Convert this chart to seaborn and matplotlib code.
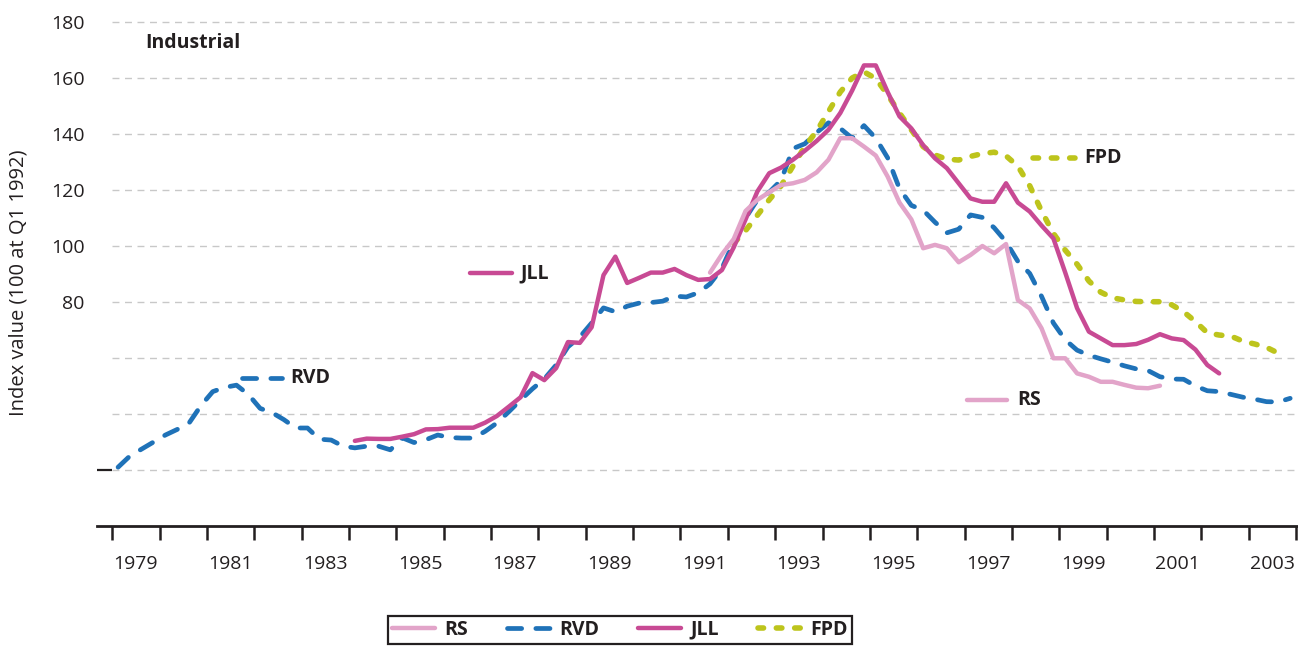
import numpy as np
import pandas as pd
import matplotlib.pyplot as plt
import seaborn as sns

# --- DATA: quarterly index values (100 at Q1 1992) ---
# each series starts at its own quarter and runs on from there
rs_start = "1991Q3"
rs_values = [90.5, 97.0,
             102.5, 112.5, 116.5, 119.2,
             121.8, 122.4, 123.6, 126.3,
             130.8, 138.5, 138.5, 135.5,
             132.3, 124.8, 115.5, 109.5,
             99.2, 100.4, 99.2, 94.2,
             96.8, 100.0, 97.4, 100.7,
             80.7, 77.7, 70.6, 59.9,
             59.9, 54.5, 53.3, 51.5,
             51.5, 50.4, 49.4, 49.2,
             50.1]

rvd_start = "1979Q1"
rvd_values = [21.0, 25.0, 27.5, 30.0,
              32.5, 34.5, 36.8, 43.0,
              48.0, 49.5, 50.3, 47.0,
              42.0, 40.5, 38.0, 35.0,
              35.0, 31.0, 30.7, 28.5,
              27.9, 28.5, 28.5, 27.2,
              31.5, 29.8, 30.8, 32.5,
              31.6, 31.4, 31.4, 33.8,
              36.8, 40.8, 45.0, 49.0,
              52.5, 57.5, 64.0, 67.5,
              72.5, 77.9, 76.5, 78.5,
              79.6, 79.8, 80.3, 82.1,
              81.8, 83.3, 86.5, 92.0,
              101.5, 110.0, 116.5, 119.2,
              123.5, 134.8, 136.5, 140.5,
              144.0, 142.0, 138.5, 143.0,
              138.5, 131.5, 120.5, 114.5,
              112.8, 108.5, 104.7, 106.0,
              111.1, 110.2, 106.5, 101.5,
              94.5, 90.2, 82.0, 72.5,
              66.5, 62.8, 61.0, 59.7,
              58.5, 57.2, 56.1, 55.5,
              53.3, 52.5, 52.4, 50.0,
              48.3, 48.0, 47.0, 46.0,
              45.3, 44.4, 44.3, 45.6]

jll_start = "1984Q1"
jll_values = [30.4, 31.2, 31.1, 31.1,
              31.9, 32.8, 34.5, 34.6,
              35.1, 35.1, 35.1, 36.9,
              39.3, 42.6, 46.0, 54.6,
              52.1, 56.4, 65.7, 65.4,
              71.0, 89.6, 96.2, 86.8,
              88.6, 90.5, 90.5, 91.8,
              89.6, 87.9, 88.2, 91.4,
              99.5, 109.5, 119.5, 126.0,
              128.0, 130.8, 134.0, 137.5,
              141.5, 147.5, 155.5, 164.5,
              164.5, 155.0, 146.3, 142.0,
              136.0, 131.3, 127.8, 122.4,
              117.0, 115.8, 115.8, 122.4,
              115.5, 112.3, 107.3, 102.7,
              90.5, 77.8, 69.4, 67.0,
              64.6, 64.6, 65.0, 66.5,
              68.5, 67.0, 66.4, 63.0,
              57.5, 54.5]

fpd_start = "1992Q1"
fpd_values = [101.0, 105.5, 111.0, 116.5,
              121.5, 128.5, 135.5, 141.0,
              148.0, 155.0, 160.0, 162.2,
              159.8, 154.0, 147.5, 141.5,
              135.5, 132.5, 131.0, 130.7,
              132.0, 133.0, 133.5, 132.2,
              128.5, 121.5, 112.5, 104.5,
              98.5, 93.5, 87.5, 83.5,
              81.5, 80.7, 80.2, 80.1,
              80.1, 79.0, 76.5, 73.0,
              69.0, 68.2, 67.8, 66.0,
              65.0, 63.8, 61.7]

series_names = ["RS", "RVD", "JLL", "FPD"]
label_years = list(range(1979, 2004, 2))

# --- STYLE ---
COLORS = {"RS": "#e2a4c9", "RVD": "#1f72b8", "JLL": "#c84a94", "FPD": "#bdc41c"}
STYLES = {
    "RS": dict(linestyle="-", lw=3.2, solid_capstyle="round"),
    "RVD": dict(linestyle=(0, (3.0, 3.0)), lw=3.4, dash_capstyle="round"),
    "JLL": dict(linestyle="-", lw=3.2, solid_capstyle="round"),
    "FPD": dict(linestyle=(0, (1.0, 2.3)), lw=4.0, dash_capstyle="round"),
}
# inline labels: (key start, key end, label x, y) in data units
INLINE = {
    "RVD": (1981.74, 1982.59, 1982.77, 52.7),
    "JLL": (1986.56, 1987.44, 1987.62, 90.2),
    "FPD": (1998.45, 1999.33, 1999.53, 131.5),
    "RS": (1997.05, 1997.89, 1998.12, 45.0),
}
INK = "#231f20"


def quarter_times(start, n):
    """Decimal year at the middle of each quarter"""
    q = pd.period_range(start=start, periods=n, freq="Q")
    return np.asarray(q.year + (q.quarter - 0.5) / 4, dtype=float)


def build_frame():
    parts = []
    for name, start, vals in [("RS", rs_start, rs_values),
                              ("RVD", rvd_start, rvd_values),
                              ("JLL", jll_start, jll_values),
                              ("FPD", fpd_start, fpd_values)]:
        parts.append(pd.DataFrame({"t": quarter_times(start, len(vals)),
                                   "value": vals, "series": name}))
    return pd.concat(parts, ignore_index=True)


df = build_frame()

sns.set_style("white")
plt.rcParams["font.family"] = ["Open Sans", "DejaVu Sans"]
plt.rcParams["text.color"] = INK

fig = plt.figure(figsize=(12.98, 6.46), dpi=100)
x0, x1 = 1978.68, 2004.04
y0, y1 = 0, 182
ax = fig.add_axes([97 / 1298, 120 / 646, 1201 / 1298, 509.6 / 646])

# dashed gridlines start at the first year tick
ax.hlines(np.arange(20, 181, 20), 1979, x1, colors="#c8c8c8", lw=1.0,
          linestyles=(0, (5, 4)), zorder=0)
ax.hlines(20, x0, 1979, colors=INK, lw=1.6, clip_on=False, zorder=1)

for name in ["RVD", "FPD", "JLL", "RS"]:
    sub = df[df["series"] == name]
    sns.lineplot(data=sub, x="t", y="value", color=COLORS[name], ax=ax,
                 legend=False, errorbar=None, **STYLES[name])

# inline keys and labels
for name, (ks, ke, tx, ty) in INLINE.items():
    ax.plot([ks, ke], [ty, ty], color=COLORS[name], **STYLES[name])
    ax.text(tx, ty, name, fontsize=14, fontweight="bold", va="center", ha="left")

ax.text(1979.70, 172.5, "Industrial", fontsize=14, fontweight="bold",
        va="center", ha="left")

ax.set_xlim(x0, x1)
ax.set_ylim(y0, y1)

# year ticks, labels centred inside every other year
ax.set_xticks(np.arange(1979, 2005))
ax.set_xticklabels([])
ax.set_xticks([y + 0.5 for y in label_years], minor=True)
ax.set_xticklabels([str(y) for y in label_years], minor=True)
ax.tick_params(axis="x", which="major", length=10, width=1.8, color=INK,
               direction="out", bottom=True)
ax.tick_params(axis="x", which="minor", length=0, pad=21, labelsize=14,
               labelcolor=INK, bottom=True)

ax.set_yticks(np.arange(80, 181, 20))
ax.tick_params(axis="y", length=0, pad=9, labelsize=14, labelcolor=INK)

for side in ["top", "right", "left"]:
    ax.spines[side].set_visible(False)
ax.spines["bottom"].set_color(INK)
ax.spines["bottom"].set_linewidth(2.0)

ax.set_xlabel("")
ax.set_ylabel("Index value (100 at Q1 1992)", fontsize=14.5, color=INK)
ax.yaxis.set_label_coords(-0.057, 0.477)

handles = [plt.Line2D([], [], color=COLORS[n], **STYLES[n]) for n in series_names]
leg = fig.legend(handles, series_names, loc="upper center", ncol=4,
                 bbox_to_anchor=(620 / 1298, 1 - 606 / 646),
                 frameon=True, fancybox=False, framealpha=1,
                 edgecolor=INK, handlelength=2.2, handletextpad=0.5,
                 columnspacing=2.0, borderpad=0.2,
                 prop={"size": 14, "weight": "bold"})
leg.get_frame().set_linewidth(1.6)

fig.savefig("out.png", dpi=100)
